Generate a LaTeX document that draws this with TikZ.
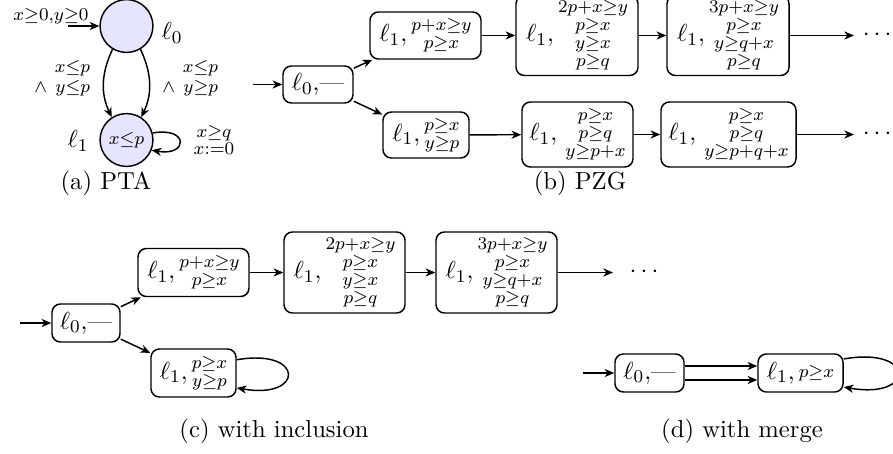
\documentclass[tikz,border=0pt]{standalone}
\usepackage{amsmath,amssymb}
\usetikzlibrary{arrows.meta}
\newcommand\pxu[1]{#1*0.44444pt}
\newcommand\mydots{$\cdotp\cdotp\cdotp$}
\begin{document}
\begin{tikzpicture}[x=0.44444pt,y=-0.44444pt,
  >={Stealth[length=4.3pt,width=3.6pt,inset=1.3pt]},
  line width=0.65pt,
  font={\fontsize{10.95}{13.6}\selectfont},
  box/.style={draw, rounded corners=3.7pt, inner sep=1.5pt, align=center},
  loc/.style={circle, draw, fill=blue!10, minimum size=23.5pt, inner sep=0pt},
  glab/.style={inner sep=1pt, font={\fontsize{10.95}{8.9}\selectfont}},
  dotsn/.style={anchor=mid west, inner sep=0pt},
  captxt/.style={inner sep=0pt}]
\useasboundingbox (0,0) rectangle (893,453);

% ---------------- (a) PTA
\node[loc] (a0) at (126.5,26) {};
\node (a0lab) at (172,33) {$\ell_0$};
\node[loc] (a1) at (126.5,140) {$\scriptstyle x\leq p$};
\node (a1lab) at (78,141) {$\ell_1$};
\coordinate (ainit) at (68,26);
\node[glab] (ainitlab) at (51,16) {$\scriptstyle x\geq0,y\geq0$};
\draw[->] (ainit) -- (a0);
\draw[->] (a0.239) to[out=245,in=115] (a1.123);
\draw[->] (a0.301) to[out=295,in=65] (a1.57);
\node[glab, anchor=east, align=right] (alft) at (93,78)
  {$\scriptstyle x\leq p$\\$\scriptstyle\wedge\ y\leq p$};
\node[glab, anchor=east, align=right] (argt) at (221,78)
  {$\scriptstyle x\leq p$\\$\scriptstyle\wedge\ y\geq p$};
\draw[->] (a1.15) to[out=10,in=-10,looseness=5.5] (a1.-22);
\node[glab] (aloop) at (214,140) {$\substack{x\geq q\\ x:=0}$};
\node[captxt] (capa) at (106,183) {(a) PTA};

% ---------------- (b) PZG
\coordinate (binit) at (253,84.5);
\node[box, minimum width=\pxu{70}, minimum height=\pxu{37}] (b0) at (318,84.5) {$\ell_0,$\textemdash};
\node[box, minimum width=\pxu{111}, minimum height=\pxu{47}] (bu1) at (425.5,35.5) {$\ell_1,\substack{p+x\geq y\\ p\geq x}$};
\node[box, minimum width=\pxu{122}, minimum height=\pxu{80}] (bu2) at (577,35.5) {$\ell_1,\substack{2p+x\geq y\\ p\geq x\\ y\geq x\\ p\geq q}$};
\node[box, minimum width=\pxu{122}, minimum height=\pxu{80}] (bu3) at (728,35.5) {$\ell_1,\substack{3p+x\geq y\\ p\geq x\\ y\geq q+x\\ p\geq q}$};
\node[box, minimum width=\pxu{86}, minimum height=\pxu{46}] (bl1) at (426,135) {$\ell_1,\substack{p\geq x\\ y\geq p}$};
\node[box, minimum width=\pxu{111}, minimum height=\pxu{65}] (bl2) at (577.5,134.5) {$\ell_1,\,\substack{p\geq x\\ p\geq q\\ y\geq p+x}$};
\node[box, minimum width=\pxu{135}, minimum height=\pxu{65}] (bl3) at (728.5,134.5) {$\ell_1,\,\substack{p\geq x\\ p\geq q\\ y\geq p+q+x}$};
\coordinate (bue) at (854,35.5);
\coordinate (ble) at (854,134.5);
\node[dotsn] (bud) at (862,35.5) {\mydots};
\node[dotsn] (bld) at (862,134.5) {\mydots};
\draw[->] (binit) -- (b0);
\draw[->] (b0) -- (bu1);
\draw[->] (b0) -- (bl1);
\draw[->] (bu1) -- (bu2);
\draw[->] (bu2) -- (bu3);
\draw[->] (bu3) -- (bue);
\draw[->] (bl1) -- (bl2);
\draw[->] (bl2) -- (bl3);
\draw[->] (bl3) -- (ble);
\node[captxt] (capb) at (580,183) {(b) PZG};

% ---------------- (c) with inclusion
\coordinate (cinit) at (20,323);
\node[box, minimum width=\pxu{68}, minimum height=\pxu{38}] (c0) at (86,323) {$\ell_0,$\textemdash};
\node[box, minimum width=\pxu{111}, minimum height=\pxu{48}] (cu1) at (193.5,272.5) {$\ell_1,\substack{p+x\geq y\\ p\geq x}$};
\node[box, minimum width=\pxu{121}, minimum height=\pxu{81}] (cu2) at (344.5,272.5) {$\ell_1,\substack{2p+x\geq y\\ p\geq x\\ y\geq x\\ p\geq q}$};
\node[box, minimum width=\pxu{121}, minimum height=\pxu{81}] (cu3) at (496.5,272.5) {$\ell_1,\substack{3p+x\geq y\\ p\geq x\\ y\geq q+x\\ p\geq q}$};
\node[box, minimum width=\pxu{85}, minimum height=\pxu{48}] (cl1) at (193.5,373) {$\ell_1,\substack{p\geq x\\ y\geq p}$};
\coordinate (cue) at (613,272.5);
\node[dotsn] (cud) at (629,272.5) {\mydots};
\draw[->] (cinit) -- (c0);
\draw[->] (c0) -- (cu1);
\draw[->] (c0) -- (cl1);
\draw[->] (cu1) -- (cu2);
\draw[->] (cu2) -- (cu3);
\draw[->] (cu3) -- (cue);
\draw[->] (cl1.17) to[out=10,in=-10,looseness=6.3] (cl1.-19);
\node[captxt] (capc) at (274,431) {(c) with inclusion};

% ---------------- (d) with merge
\coordinate (dinit) at (583,373);
\node[box, minimum width=\pxu{69}, minimum height=\pxu{38}] (d0) at (649.5,373) {$\ell_0,$\textemdash};
\node[box, minimum width=\pxu{85}, minimum height=\pxu{38}] (d1) at (800.5,373) {$\ell_1,\substack{p\geq x}$};
\draw[->] (dinit) -- (d0);
\draw[->] ([yshift=3.1pt]d0.east) -- ([yshift=3.1pt]d1.west);
\draw[->] ([yshift=-3.1pt]d0.east) -- ([yshift=-3.1pt]d1.west);
\draw[->] (d1.18) to[out=10,in=-10,looseness=6.7] (d1.-18);
\node[captxt] (capd) at (742,431) {(d) with merge};
\end{tikzpicture}
\end{document}
